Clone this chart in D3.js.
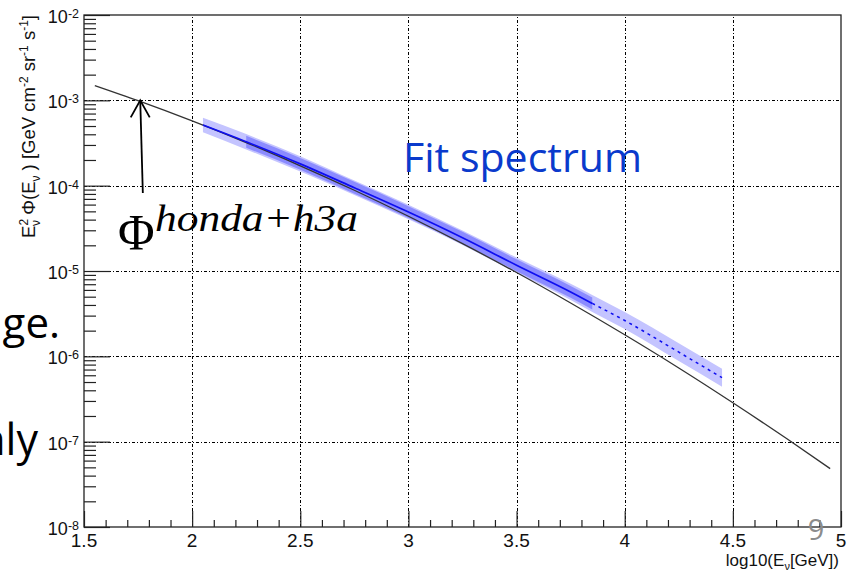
<!DOCTYPE html>
<html>
<head>
<meta charset="utf-8">
<script src="https://cdn.jsdelivr.net/npm/d3@7"></script>
<style>
body { margin: 0; background: #fff; }
svg { display: block; }
</style>
</head>
<body>
<svg width="857" height="572"></svg>
<script>
// honda+h3a model (log10 E, E^2 Phi)
var hondaLogE = [1.55, 1.75, 2.0, 2.25, 2.5, 2.75, 3.0, 3.25, 3.5, 3.75, 4.0, 4.25, 4.5, 4.75, 4.95];
var hondaFlux = [1.49e-3, 9.9e-4, 5.74e-4, 3.20e-4, 1.71e-4, 8.83e-5, 4.38e-5, 2.09e-5, 9.6e-6, 4.22e-6, 1.79e-6, 7.31e-7, 2.86e-7, 1.08e-7, 4.83e-8];

// fitted spectrum + bands (half widths in dex)
var fitLogE = [2.05, 2.25, 2.5, 2.75, 3.0, 3.25, 3.5, 3.75, 3.85, 4.0, 4.25, 4.45];
var fitFlux = [5.13e-4, 3.27e-4, 1.80e-4, 9.44e-5, 4.90e-5, 2.45e-5, 1.17e-5, 5.69e-6, 4.17e-6, 2.63e-6, 1.12e-6, 5.62e-7];
var fitOuterErr = [0.085, 0.09, 0.09, 0.085, 0.085, 0.085, 0.09, 0.095, 0.1, 0.1, 0.105, 0.105];
var fitInnerErr = [null, 0.07, 0.07, 0.07, 0.07, 0.07, 0.07, 0.07, 0.07, null, null, null];
var solidUpTo = 3.85;

var xTicks = [1.5, 2, 2.5, 3, 3.5, 4, 4.5, 5];
var yExps = [-8, -7, -6, -5, -4, -3, -2];

var svg = d3.select("svg");
var L = 84, R = 841, T = 15, B = 527;

var x = d3.scaleLinear().domain([1.5, 5]).range([L, R]);
var y = d3.scaleLog().domain([1e-8, 1e-2]).range([B, T]);

// grid
var grid = svg.append("g").attr("stroke", "#000").attr("stroke-width", 1)
    .attr("stroke-dasharray", "3,2,1,2").attr("fill", "none");
grid.selectAll("line.v").data(xTicks.slice(1, -1)).enter().append("line")
    .attr("x1", d => Math.round(x(d)) + 0.5).attr("x2", d => Math.round(x(d)) + 0.5)
    .attr("y1", B).attr("y2", T);
grid.selectAll("line.h").data(yExps.slice(1, -1)).enter().append("line")
    .attr("y1", d => Math.round(y(Math.pow(10, d))) + 0.5).attr("y2", d => Math.round(y(Math.pow(10, d))) + 0.5)
    .attr("x1", L).attr("x2", R);

// data
var hondaData = hondaLogE.map((e, i) => ({e: e, f: hondaFlux[i]}));
var fitData = fitLogE.map((e, i) => ({e: e, f: fitFlux[i], o: fitOuterErr[i], n: fitInnerErr[i]}));

var outer = d3.area().curve(d3.curveMonotoneX)
    .x(d => x(d.e))
    .y0(d => y(d.f * Math.pow(10, -d.o)))
    .y1(d => y(d.f * Math.pow(10, d.o)));
var inner = d3.area().curve(d3.curveMonotoneX)
    .defined(d => d.n != null)
    .x(d => x(d.e))
    .y0(d => y(d.f * Math.pow(10, -d.n)))
    .y1(d => y(d.f * Math.pow(10, d.n)));

svg.append("path").datum(fitData).attr("d", outer).attr("fill", "#c4c4ff");
svg.append("path").datum(fitData).attr("d", inner).attr("fill", "#8b8bff");

var line = d3.line().curve(d3.curveMonotoneX).x(d => x(d.e)).y(d => y(d.f));

svg.append("path").datum(hondaData).attr("d", line)
    .attr("fill", "none").attr("stroke", "#333").attr("stroke-width", 1.3);

svg.append("path").datum(fitData.filter(d => d.e <= solidUpTo)).attr("d", line)
    .attr("fill", "none").attr("stroke", "#0e0ef0").attr("stroke-width", 1.7);
svg.append("path").datum(fitData.filter(d => d.e >= solidUpTo)).attr("d", line)
    .attr("fill", "none").attr("stroke", "#0e0ef0").attr("stroke-width", 1.5)
    .attr("stroke-dasharray", "3,4");

// axes, ticks pointing inward
var minorX = d3.range(15, 50).map(d => d / 10).filter(d => Math.abs(d * 2 - Math.round(d * 2)) > 1e-6);
svg.append("g").attr("transform", "translate(0," + B + ")")
    .call(d3.axisBottom(x).tickValues(xTicks).tickSize(-16).tickFormat(""))
    .call(g => g.select(".domain").remove());
svg.append("g").attr("transform", "translate(0," + B + ")")
    .call(d3.axisBottom(x).tickValues(minorX).tickSize(-7).tickFormat(""))
    .call(g => g.select(".domain").remove());

var minorY = [];
yExps.slice(0, -1).forEach(p => { for (var k = 2; k <= 9; k++) minorY.push(k * Math.pow(10, p)); });
svg.append("g").attr("transform", "translate(" + L + ",0)")
    .call(d3.axisLeft(y).tickValues(yExps.map(p => Math.pow(10, p))).tickSize(-26).tickFormat(""))
    .call(g => g.select(".domain").remove());
svg.append("g").attr("transform", "translate(" + L + ",0)")
    .call(d3.axisLeft(y).tickValues(minorY).tickSize(-12).tickFormat(""))
    .call(g => g.select(".domain").remove());
svg.selectAll(".tick line").attr("stroke", "#222").attr("stroke-width", 1.2);

// frame
svg.append("rect").attr("x", L).attr("y", T).attr("width", R - L).attr("height", B - T)
    .attr("fill", "none").attr("stroke", "#222").attr("stroke-width", 1.3);

// tick labels
var font = "Liberation Sans, Arial, sans-serif";
svg.append("g").selectAll("text").data(xTicks).enter().append("text")
    .attr("x", d => x(d)).attr("y", B + 20)
    .attr("text-anchor", "middle").attr("font-family", font).attr("font-size", 19).attr("fill", "#111")
    .text(d => d);

var yl = svg.append("g").selectAll("text").data(yExps).enter().append("text")
    .attr("x", L - 5).attr("y", d => y(Math.pow(10, d)) + 8)
    .attr("text-anchor", "end").attr("font-family", font).attr("font-size", 18).attr("fill", "#111");
yl.append("tspan").text("10");
yl.append("tspan").attr("font-size", 12.5).attr("dy", -5).text(d => d);

// axis titles
var xt = svg.append("text").attr("x", 839).attr("y", 566).attr("text-anchor", "end")
    .attr("font-family", font).attr("font-size", 17).attr("fill", "#111");
xt.append("tspan").text("log10(E");
xt.append("tspan").attr("font-size", 11).attr("dy", 4).text("ν");
xt.append("tspan").attr("dy", -4).text("[GeV])");

var yt = svg.append("text").attr("transform", "translate(35," + T + ") rotate(-90)")
    .attr("text-anchor", "end").attr("font-family", font).attr("font-size", 18.5).attr("fill", "#111");
yt.append("tspan").text("E");
yt.append("tspan").attr("font-size", 12).attr("dy", -7).text("2");
yt.append("tspan").attr("font-size", 12).attr("dx", -7).attr("dy", 12).text("ν");
yt.append("tspan").attr("dy", -5).text(" Φ(E");
yt.append("tspan").attr("font-size", 12).attr("dy", 5).text("ν");
yt.append("tspan").attr("dy", -5).text(" ) [GeV cm");
yt.append("tspan").attr("font-size", 12).attr("dy", -7).text("-2");
yt.append("tspan").attr("dy", 7).text(" sr");
yt.append("tspan").attr("font-size", 12).attr("dy", -7).text("-1");
yt.append("tspan").attr("dy", 7).text(" s");
yt.append("tspan").attr("font-size", 12).attr("dy", -7).text("-1");
yt.append("tspan").attr("dy", 7).text("]");

// slide overlay
svg.append("text").attr("x", 403).attr("y", 172).attr("font-family", "Open Sans, sans-serif")
    .attr("font-size", 41).attr("fill", "#0a3acc")
    .attr("textLength", 239).attr("lengthAdjust", "spacingAndGlyphs").text("Fit spectrum");

var arrowTip = [1.76, 1e-3], arrowTail = [1.772, 8.2e-5];
svg.append("line").attr("x1", x(arrowTail[0])).attr("y1", y(arrowTail[1]))
    .attr("x2", x(arrowTip[0])).attr("y2", y(arrowTip[1]))
    .attr("stroke", "#000").attr("stroke-width", 1.8);
svg.append("path")
    .attr("d", "M" + (x(arrowTip[0]) - 9.5) + "," + (y(arrowTip[1]) + 17) + "L" + x(arrowTip[0]) + "," + y(arrowTip[1]) +
        "L" + (x(arrowTip[0]) + 9.5) + "," + (y(arrowTip[1]) + 17))
    .attr("fill", "none").attr("stroke", "#000").attr("stroke-width", 1.8);

svg.append("text").attr("x", 118).attr("y", 249).attr("font-family", "Liberation Serif, serif")
    .attr("font-size", 50).attr("fill", "#000").text("Φ");
svg.append("text").attr("x", 155).attr("y", 231).attr("font-family", "Liberation Serif, serif")
    .attr("font-style", "italic").attr("font-size", 38).attr("fill", "#000")
    .attr("textLength", 203).attr("lengthAdjust", "spacingAndGlyphs").text("honda+h3a");

svg.append("text").attr("x", 60).attr("y", 338).attr("text-anchor", "end")
    .attr("font-family", "Open Sans, sans-serif").attr("font-size", 42).attr("fill", "#000").text("ge.");
svg.append("text").attr("x", 38).attr("y", 455).attr("text-anchor", "end")
    .attr("font-family", "Open Sans, sans-serif").attr("font-size", 43).attr("fill", "#000").text("nly");

svg.append("text").attr("x", 816).attr("y", 540).attr("text-anchor", "middle")
    .attr("font-family", "Open Sans, sans-serif").attr("font-size", 29).attr("fill", "#8c8c8c").text("9");
</script>
</body>
</html>
